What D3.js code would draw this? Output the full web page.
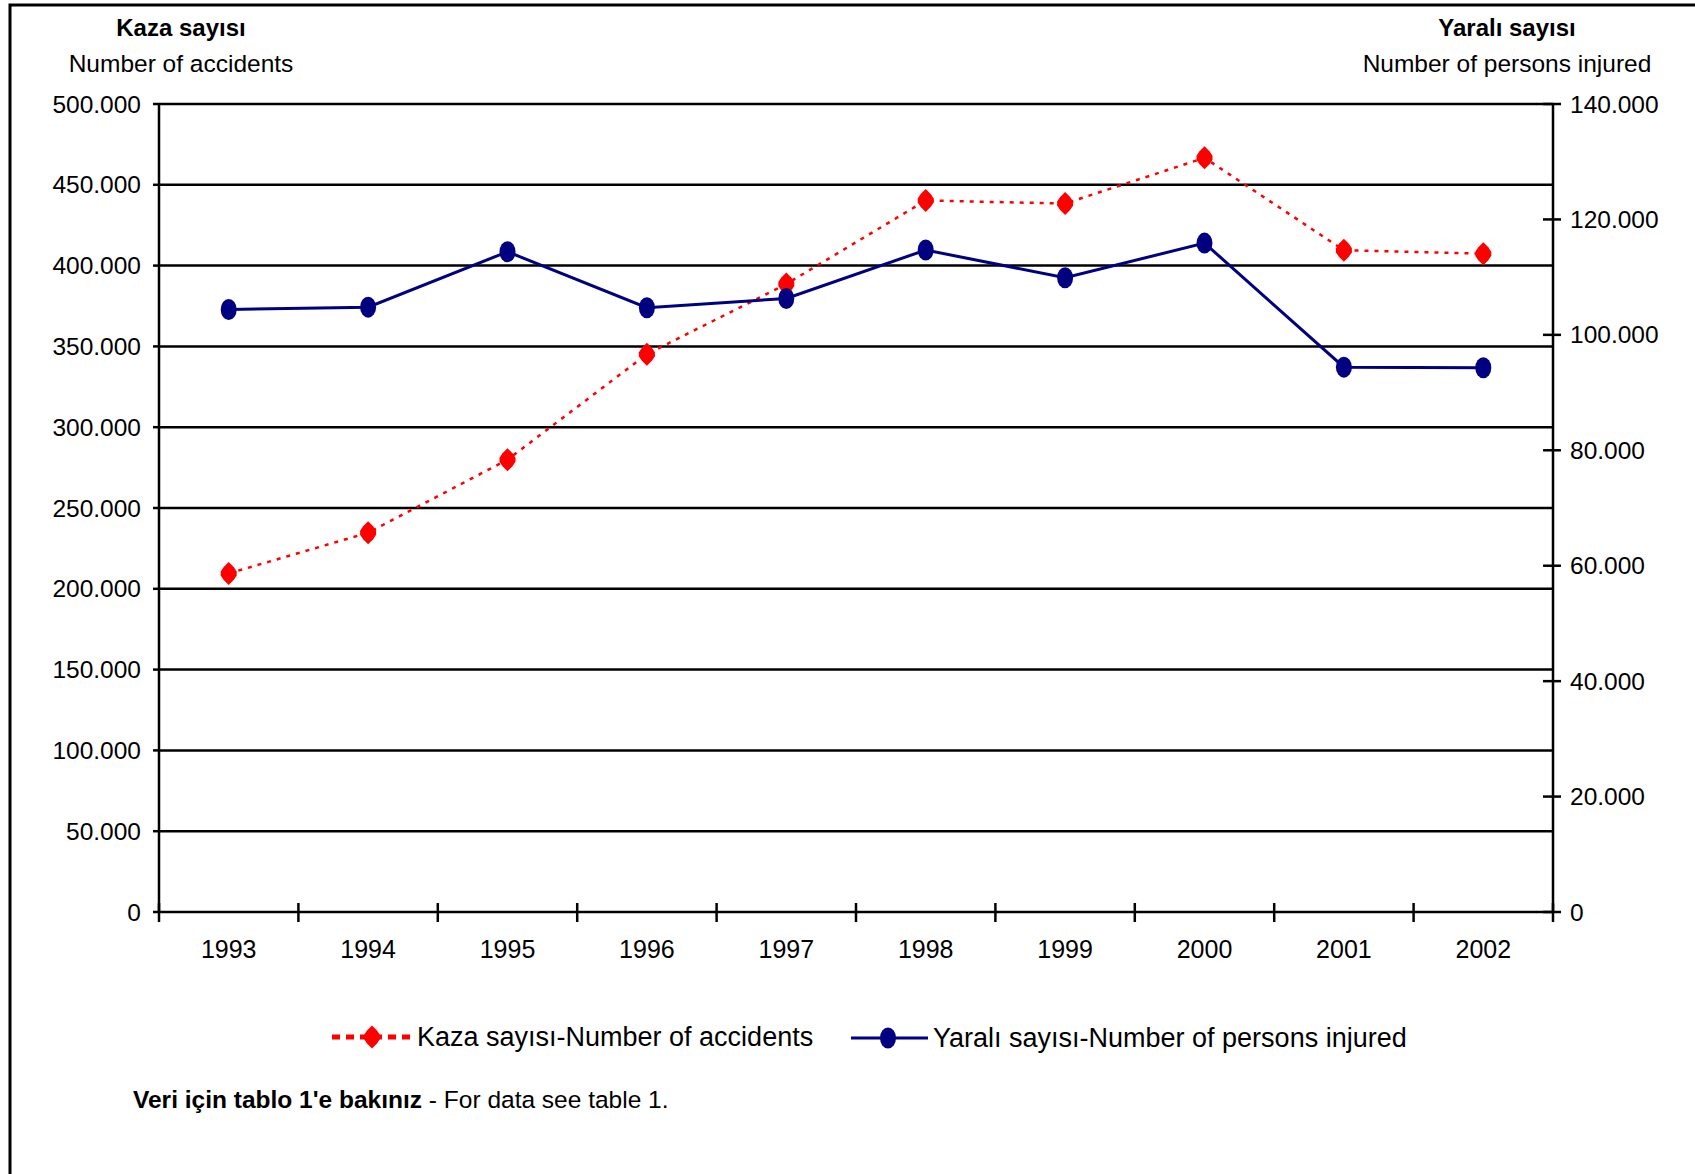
<!DOCTYPE html>
<html>
<head>
<meta charset="utf-8">
<script src="https://cdn.jsdelivr.net/npm/d3@7"></script>
<style>
  html, body { margin: 0; padding: 0; background: #fff; }
  svg { display: block; }
  text { font-family: "Liberation Sans", Arial, sans-serif; fill: #000; }
</style>
</head>
<body>
<svg id="chart" width="1695" height="1174"></svg>
<script>
// Trafik kazaları ve yaralı sayıları, 1993-2002
const years = ["1993", "1994", "1995", "1996", "1997", "1998", "1999", "2000", "2001", "2002"];
const accidents = [209500, 234700, 279900, 345200, 388600, 440300, 438400, 466700, 409500, 407400];
const injured = [104400, 104800, 114400, 104700, 106300, 114700, 109900, 115900, 94400, 94300];
const leftTicks = [0, 50000, 100000, 150000, 200000, 250000, 300000, 350000, 400000, 450000, 500000];
const rightTicks = [0, 20000, 40000, 60000, 80000, 100000, 120000, 140000];

const svg = d3.select("#chart");
const plot = { left: 159, right: 1553, top: 104, bottom: 912 };

const trFormat = d3.formatLocale({ decimal: ",", thousands: ".", grouping: [3], currency: ["", ""] }).format(",d");

const x = d3.scaleBand().domain(years).range([plot.left, plot.right]);
const yL = d3.scaleLinear().domain([0, 500000]).range([plot.bottom, plot.top]);
const yR = d3.scaleLinear().domain([0, 140000]).range([plot.bottom, plot.top]);
const cx = d => x(d) + x.bandwidth() / 2;

// outer frame
svg.append("rect")
  .attr("x", 10).attr("y", 5).attr("width", 1720).attr("height", 1250)
  .attr("fill", "none").attr("stroke", "#000").attr("stroke-width", 3);

// horizontal gridlines on the primary axis
svg.append("g").selectAll("line").data(leftTicks.filter(v => v > 0)).join("line")
  .attr("x1", plot.left).attr("x2", plot.right)
  .attr("y1", d => yL(d)).attr("y2", d => yL(d))
  .attr("stroke", "#000").attr("stroke-width", 2.5);

// axis lines
const axes = svg.append("g").attr("stroke", "#000").attr("stroke-width", 2.5);
axes.append("line").attr("x1", plot.left).attr("x2", plot.left).attr("y1", plot.top).attr("y2", plot.bottom);
axes.append("line").attr("x1", plot.right).attr("x2", plot.right).attr("y1", plot.top).attr("y2", plot.bottom);
axes.append("line").attr("x1", plot.left).attr("x2", plot.right).attr("y1", plot.bottom).attr("y2", plot.bottom);

// left ticks and labels
axes.selectAll(".lt").data(leftTicks).join("line").attr("class", "lt")
  .attr("x1", plot.left - 6).attr("x2", plot.left)
  .attr("y1", d => yL(d)).attr("y2", d => yL(d));
svg.append("g").selectAll("text").data(leftTicks).join("text")
  .attr("x", 141).attr("y", d => yL(d)).attr("dy", "0.35em")
  .attr("text-anchor", "end").attr("font-size", 24.5)
  .text(d => trFormat(d));

// right ticks (crossing) and labels
axes.selectAll(".rt").data(rightTicks).join("line").attr("class", "rt")
  .attr("x1", plot.right - 10).attr("x2", plot.right + 8)
  .attr("y1", d => yR(d)).attr("y2", d => yR(d));
svg.append("g").selectAll("text").data(rightTicks).join("text")
  .attr("x", 1570).attr("y", d => yR(d)).attr("dy", "0.35em")
  .attr("text-anchor", "start").attr("font-size", 24.5)
  .text(d => trFormat(d));

// category boundary ticks on the x axis
const bounds = years.map(d => x(d)).concat([plot.right]);
axes.selectAll(".xt").data(bounds).join("line").attr("class", "xt")
  .attr("x1", d => d).attr("x2", d => d)
  .attr("y1", plot.bottom - 9).attr("y2", plot.bottom + 10);
svg.append("g").selectAll("text").data(years).join("text")
  .attr("x", d => cx(d)).attr("y", 958)
  .attr("text-anchor", "middle").attr("font-size", 25)
  .text(d => d);

// axis titles
const titles = svg.append("g").attr("text-anchor", "middle");
titles.append("text").attr("x", 181).attr("y", 36).attr("font-size", 24).attr("font-weight", "bold").text("Kaza sayısı");
titles.append("text").attr("x", 181).attr("y", 72).attr("font-size", 24.5).text("Number of accidents");
titles.append("text").attr("x", 1507).attr("y", 36).attr("font-size", 24).attr("font-weight", "bold").text("Yaralı sayısı");
titles.append("text").attr("x", 1507).attr("y", 72).attr("font-size", 24.5).text("Number of persons injured");

// marker shapes
const redMarker = "M0,-11.5L5,-6.5L8,-2L8,2L5,6.5L0,11.5L-5,6.5L-8,2L-8,-2L-5,-6.5Z";
const drawBlueMarker = (g, px, py) => g.append("ellipse").attr("cx", px).attr("cy", py).attr("rx", 8).attr("ry", 10.5).attr("fill", "#000080");

// accidents series (primary axis)
const lineL = d3.line().x((d, i) => cx(years[i])).y(d => yL(d));
svg.append("path").datum(accidents).attr("d", lineL)
  .attr("fill", "none").attr("stroke", "#ff0000").attr("stroke-width", 2.5)
  .attr("stroke-dasharray", "4 6");
svg.append("g").selectAll("path").data(accidents).join("path")
  .attr("d", redMarker)
  .attr("transform", (d, i) => `translate(${cx(years[i])},${yL(d)})`)
  .attr("fill", "#ff0000");

// injured series (secondary axis)
const lineR = d3.line().x((d, i) => cx(years[i])).y(d => yR(d));
svg.append("path").datum(injured).attr("d", lineR)
  .attr("fill", "none").attr("stroke", "#000080").attr("stroke-width", 3);
const blueG = svg.append("g");
injured.forEach((d, i) => drawBlueMarker(blueG, cx(years[i]), yR(d)));

// legend
const leg = svg.append("g");
leg.append("line").attr("x1", 332).attr("x2", 414).attr("y1", 1037).attr("y2", 1037)
  .attr("stroke", "#ff0000").attr("stroke-width", 5).attr("stroke-dasharray", "8 6");
leg.append("path").attr("d", redMarker).attr("transform", "translate(372,1037)").attr("fill", "#ff0000");
leg.append("text").attr("x", 417).attr("y", 1046).attr("font-size", 27).text("Kaza sayısı-Number of accidents");
leg.append("line").attr("x1", 851).attr("x2", 928).attr("y1", 1038).attr("y2", 1038)
  .attr("stroke", "#000080").attr("stroke-width", 3);
drawBlueMarker(leg, 888, 1038);
leg.append("text").attr("x", 933).attr("y", 1047).attr("font-size", 27).text("Yaralı sayısı-Number of persons injured");

// source note
const note = svg.append("text").attr("x", 133).attr("y", 1108).attr("font-size", 24.5);
note.append("tspan").attr("font-weight", "bold").text("Veri için tablo 1'e bakınız");
note.append("tspan").text(" - For data see table 1.");
</script>
</body>
</html>
